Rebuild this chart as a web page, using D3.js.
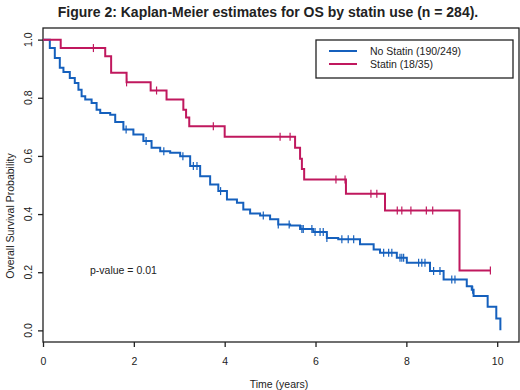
<!DOCTYPE html>
<meta charset="utf-8" />
<script src="https://d3js.org/d3.v7.min.js"></script>
<style>
  body { margin: 0; background: #fff; }
  text { font-family: "Liberation Sans", Arial, sans-serif; fill: #222; }
</style>
<div id="chart"></div>
<script>
  // Kaplan-Meier steps (time in years, survival probability)
  const noStatinTime = [0, 0.15, 0.26, 0.37, 0.45, 0.59, 0.70, 0.78, 0.85, 0.93, 1.07, 1.18, 1.26, 1.48, 1.59, 1.77, 1.99, 2.21, 2.39, 2.58, 2.80, 3.02, 3.24, 3.46, 3.68, 3.86, 4.05, 4.27, 4.41, 4.56, 4.78, 5.00, 5.18, 5.44, 5.66, 5.95, 6.25, 6.50, 6.98, 7.28, 7.42, 7.79, 8.01, 8.52, 8.82, 9.33, 9.44, 9.48, 9.79, 9.98, 10.07];
  const noStatinSurv = [1.0, 0.971, 0.937, 0.903, 0.889, 0.868, 0.851, 0.828, 0.805, 0.794, 0.782, 0.759, 0.748, 0.742, 0.717, 0.691, 0.674, 0.651, 0.628, 0.616, 0.611, 0.599, 0.565, 0.530, 0.502, 0.479, 0.450, 0.439, 0.416, 0.402, 0.395, 0.382, 0.364, 0.361, 0.349, 0.338, 0.318, 0.313, 0.296, 0.278, 0.267, 0.250, 0.233, 0.204, 0.175, 0.152, 0.140, 0.118, 0.081, 0.041, 0.0];
  const noStatinCensor = [1.83, 2.27, 2.66, 3.08, 3.31, 3.39, 3.91, 4.85, 5.18, 5.42, 5.70, 5.73, 5.92, 5.99, 6.10, 6.17, 6.25, 6.58, 6.72, 6.84, 7.50, 7.61, 7.68, 7.86, 7.90, 7.94, 8.27, 8.34, 8.41, 8.60, 8.74, 9.00, 9.07, 9.46];

  const statinTime = [0, 0.39, 1.37, 1.50, 1.84, 2.37, 2.72, 3.09, 3.15, 3.22, 4.00, 5.55, 5.66, 5.70, 5.75, 6.67, 7.53, 9.17, 9.85];
  const statinSurv = [1.0, 0.971, 0.943, 0.886, 0.853, 0.825, 0.794, 0.759, 0.732, 0.702, 0.666, 0.628, 0.590, 0.555, 0.519, 0.470, 0.412, 0.206, 0.206];
  const statinCensor = [1.11, 1.84, 2.50, 3.75, 5.22, 5.44, 6.45, 6.65, 7.22, 7.35, 7.80, 7.90, 8.10, 8.44, 8.58, 9.85];

  const xTicks = [0, 2, 4, 6, 8, 10];
  const yTicks = [0, 0.2, 0.4, 0.6, 0.8, 1.0];
  const legendLabels = ["No Statin (190/249)", "Statin (18/35)"];
  const colors = ["#1560bd", "#c0185e"];

  const width = 520;
  const height = 390;

  const svg = d3
    .select("#chart")
    .append("svg")
    .attr("width", width)
    .attr("height", height);

  const x = d3.scaleLinear().domain([0, 10.48]).range([43, 519]);
  const y = d3.scaleLinear().domain([-0.04, 1.04]).range([342, 28]);

  // title
  svg
    .append("text")
    .attr("x", 268)
    .attr("y", 17)
    .attr("text-anchor", "middle")
    .style("font-weight", "bold")
    .style("font-size", "14px")
    .text("Figure 2: Kaplan-Meier estimates for OS by statin use (n = 284).");

  // frame
  svg
    .append("rect")
    .attr("x", x(0))
    .attr("y", y(1.04))
    .attr("width", x(10.48) - x(0))
    .attr("height", y(-0.04) - y(1.04))
    .attr("fill", "none")
    .attr("stroke", "#222")
    .attr("stroke-width", 1.3);

  // axes
  const xAxis = svg
    .append("g")
    .attr("transform", `translate(0,${y(-0.04)})`)
    .call(d3.axisBottom(x).tickValues(xTicks).tickSize(5).tickPadding(11).tickFormat(d3.format("d")));
  const yAxis = svg
    .append("g")
    .attr("transform", `translate(${x(0)},0)`)
    .call(d3.axisLeft(y).tickValues(yTicks).tickSize(5).tickFormat(""));
  [xAxis, yAxis].forEach((g) => {
    g.select(".domain").remove();
    g.selectAll("line").attr("stroke", "#222").attr("stroke-width", 1.3);
    g.selectAll("text").style("font-size", "10.5px").attr("fill", "#222").style("font-family", "Liberation Sans, Arial, sans-serif");
  });

  // rotated y tick labels, R style
  svg
    .append("g")
    .selectAll("text")
    .data(yTicks)
    .join("text")
    .attr("transform", (d) => `translate(32,${y(d)}) rotate(-90)`)
    .attr("text-anchor", "middle")
    .style("font-size", "10.5px")
    .text(d3.format(".1f"));

  // axis labels
  svg
    .append("text")
    .attr("x", 279)
    .attr("y", 388)
    .attr("text-anchor", "middle")
    .style("font-size", "10.5px")
    .text("Time (years)");
  svg
    .append("text")
    .attr("transform", "translate(14,216) rotate(-90)")
    .attr("text-anchor", "middle")
    .style("font-size", "10.5px")
    .text("Overall Survival Probability");

  // curves
  const line = d3
    .line()
    .x((d) => x(d[0]))
    .y((d) => y(d[1]))
    .curve(d3.curveStepAfter);

  const groups = [
    { time: noStatinTime, surv: noStatinSurv, censor: noStatinCensor, color: colors[0] },
    { time: statinTime, surv: statinSurv, censor: statinCensor, color: colors[1] }
  ];

  groups.forEach((g) => {
    const pts = g.time.map((t, i) => [t, g.surv[i]]);
    svg
      .append("path")
      .datum(pts)
      .attr("d", line)
      .attr("fill", "none")
      .attr("stroke", g.color)
      .attr("stroke-width", 2);

    const stepAt = (t) => g.surv[d3.bisectRight(g.time, t) - 1];
    svg
      .append("g")
      .selectAll("line")
      .data(g.censor)
      .join("line")
      .attr("x1", (d) => x(d))
      .attr("x2", (d) => x(d))
      .attr("y1", (d) => y(stepAt(d)) - 4)
      .attr("y2", (d) => y(stepAt(d)) + 4)
      .attr("stroke", g.color)
      .attr("stroke-width", 1.2);
  });

  // legend
  const legend = svg.append("g");
  legend
    .append("rect")
    .attr("x", 316)
    .attr("y", 40)
    .attr("width", 197)
    .attr("height", 38)
    .attr("fill", "#fff")
    .attr("stroke", "#222")
    .attr("stroke-width", 1.3);
  legendLabels.forEach((lab, i) => {
    legend
      .append("line")
      .attr("x1", 329)
      .attr("x2", 357)
      .attr("y1", 51 + i * 13)
      .attr("y2", 51 + i * 13)
      .attr("stroke", colors[i])
      .attr("stroke-width", 2);
    legend
      .append("text")
      .attr("x", 370)
      .attr("y", 55 + i * 13)
      .style("font-size", "10.5px")
      .text(lab);
  });

  // p-value
  svg
    .append("text")
    .attr("x", 90)
    .attr("y", 274)
    .style("font-size", "10.5px")
    .text("p-value = 0.01");
</script>
